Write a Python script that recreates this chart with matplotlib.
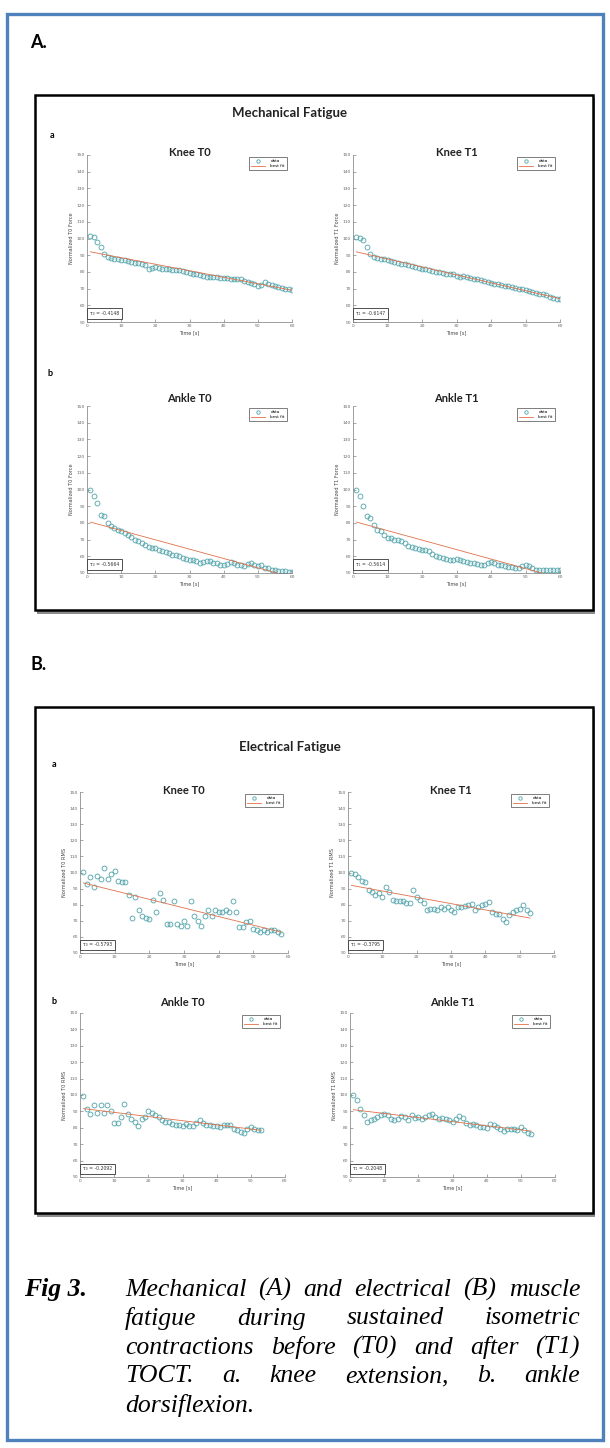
import numpy as np
import matplotlib
matplotlib.use('Agg')
import matplotlib.pyplot as plt
from matplotlib.patches import Rectangle

# Time stamps (1 sample per second)
t_mech = np.arange(1, 61)
t_elec_knee_t0 = np.arange(1, 59)
t_elec_short = np.arange(1, 54)

# Mechanical fatigue - normalized force
mech_knee_t0 = [101.5, 101, 98, 95, 91, 89, 88.5, 88, 87.5, 87, 87, 86.5, 86, 85.5, 85.5,
                85, 84, 82, 82.5, 83, 82.5, 82, 82, 81.5, 81, 81, 81, 80.5, 80, 79.5,
                79, 78.5, 78, 77.5, 77, 77, 77, 77, 76.5, 76.5, 76.5, 76, 76, 75.5, 75.5,
                74.5, 74, 73.5, 72.5, 71.5, 72, 74, 73, 72, 71.5, 71, 70.5, 70, 69.5, 69]
mech_knee_t1 = [101, 100.5, 99, 95, 91, 89, 88.5, 88, 87.5, 87, 86.5, 86, 85.5, 85, 84.5,
                84, 83.5, 83, 82.5, 82, 81.5, 81, 80.5, 80, 80, 79.5, 79, 78.5, 79, 77.5,
                77, 77.5, 77, 76.5, 76, 75.5, 75, 74.5, 74, 73.5, 73, 72.5, 72, 71.5, 71.5,
                71, 70.5, 70, 69.5, 69, 68.5, 68, 67.5, 67, 66.5, 66, 65, 64.5, 64, 64]
mech_ankle_t0 = [100, 96, 92, 85, 84, 80, 78, 77, 76, 75, 74, 73, 71.5, 70, 69,
                 68, 67, 65.5, 65, 65, 64, 63, 62.5, 62, 61, 61, 60, 59, 58.5, 58,
                 58, 57, 56, 56.5, 57, 57, 56, 56, 55, 55, 55.5, 56.5, 56, 55, 55,
                 54, 55.5, 56, 55, 54, 54.5, 53, 53, 52, 51.5, 51, 51, 51, 50.5, 50.5]
mech_ankle_t1 = [100, 96, 90, 84, 83, 79, 76, 75, 73, 71, 71, 70, 69.5, 69, 68,
                 66, 65.5, 65, 64.5, 64, 63.5, 63, 61.5, 60, 59.5, 59, 58.5, 58, 58, 58.5,
                 57.5, 57, 56.5, 56, 56, 55.5, 55, 55, 56, 56.5, 56, 55, 54.5, 54, 53.5,
                 53.5, 53, 53, 54, 54.5, 54, 53, 52, 51.5, 51.5, 51.5, 51.5, 51.5, 51.5, 51.5]

# Electrical fatigue - normalized RMS
elec_knee_t0 = [100.3, 92.7, 97, 91, 98, 96, 103, 96, 99, 101, 95, 94, 94, 86, 72,
                85, 76.5, 73, 72, 71, 83, 75.5, 87, 83, 68, 68, 82, 68, 67, 70,
                67, 82, 73, 70, 67, 73, 76.5, 73, 76.5, 75.5, 75.5, 76.5, 75.5, 82, 75.5,
                66, 66, 69, 70, 65, 64.5, 63, 64, 63, 64, 64, 63, 62]
elec_knee_t1 = [100, 99, 97, 95, 94, 89, 88, 86, 87, 85, 91, 88, 83, 82, 82,
                82, 81, 81, 89, 85, 83, 81, 76.5, 77.5, 77.5, 76.5, 78.6, 77.5, 78.6, 76.5,
                75.5, 78.6, 78.6, 79, 79.6, 80.6, 76.5, 78.6, 79.6, 80.6, 81.7, 75.5, 74.4, 74.4, 71.3,
                69.2, 73.4, 75.5, 76.5, 77.5, 79.6, 76.5, 75]
elec_ankle_t0 = [99.4, 91.7, 88.6, 93.7, 89, 93.7, 89, 93.7, 90.2, 83, 83, 86.6, 94.3, 88.6, 85.6,
                 83.5, 81, 85.6, 86.6, 90, 89, 87.6, 86.6, 85, 83.5, 83.5, 82.5, 82, 81.5, 81,
                 82.5, 81, 81, 83, 85, 83, 82, 81.5, 81, 81, 80.5, 81.5, 82, 81.5, 79.5,
                 78.5, 77.5, 77, 79.5, 80.5, 79.5, 78.5, 78.5]
elec_ankle_t1 = [100, 97, 91.7, 87.6, 83.5, 84.5, 85.6, 86.6, 87.6, 88.6, 87.6, 85.6, 85, 85.6, 87,
                 86.6, 85, 87.6, 86, 86.6, 85.6, 86.6, 87.6, 88.6, 86.6, 85.6, 86, 85.6, 85, 83.5,
                 85.6, 87, 86, 83, 82, 82.5, 82, 80.5, 80.5, 80, 82.5, 81.5, 80.5, 79.5, 78,
                 79.5, 79, 79.5, 78.5, 80.5, 78.5, 77, 76]

# Best fit lines (start / end)
fit_mech_t = [1, 60]
fit_mech_knee_t0 = [92, 69]
fit_mech_knee_t1 = [92, 64]
fit_mech_ankle_t0 = [80.5, 47.5]
fit_mech_ankle_t1 = [80.5, 47]
fit_elec_knee_t0_t = [1, 58]
fit_elec_knee_t0 = [93.5, 63]
fit_elec_short_t = [1, 53]
fit_elec_knee_t1 = [92, 71.7]
fit_elec_ankle_t0 = [91.7, 78.5]
fit_elec_ankle_t1 = [91, 78]

taus = ['τ₀ = -0.4148', 'τ₁ = -0.6147', 'τ₀ = -0.5664', 'τ₁ = -0.5614',
        'τ₀ = -0.5793', 'τ₁ = -0.3795', 'τ₀ = -0.2092', 'τ₁ = -0.2048']

W, H = 610, 1448
DATA_C = '#4fa3aa'
FIT_C = '#e0704a'
SANS = ['Lato', 'DejaVu Sans']

fig = plt.figure(figsize=(W / 100, H / 100), dpi=100)


def fx(x):
    return x / W


def fy(y):
    return 1 - y / H


def px_axes(l, t, r, b):
    return fig.add_axes([fx(l), fy(b), (r - l) / W, (b - t) / H])


def rect(l, t, r, b, **kw):
    p = Rectangle((fx(l), fy(b)), (r - l) / W, (b - t) / H, transform=fig.transFigure, **kw)
    fig.add_artist(p)


# outer blue border
rect(7, 14, 603, 1440, fill=False, ec='#4f81bd', lw=2.4, zorder=5)

# black frames with grey shadow
for top, bot in [(95, 610), (707, 1213)]:
    rect(37, top + 3, 595, bot + 4, fc='#8c8c8c', ec='none', zorder=-3)
    rect(35, top, 593, bot, fc='white', ec='black', lw=1.8, zorder=-2)

fig.text(fx(30), fy(43), 'A.', fontsize=13, fontweight='bold', family=SANS, va='center')
fig.text(fx(30), fy(665), 'B.', fontsize=13, fontweight='bold', family=SANS, va='center')
fig.text(fx(290), fy(113), 'Mechanical Fatigue', fontsize=9.5, fontweight='bold',
         family=SANS, ha='center', va='center', color='#222')
fig.text(fx(290), fy(747), 'Electrical Fatigue', fontsize=9.5, fontweight='bold',
         family=SANS, ha='center', va='center', color='#222')
for x, y, s in [(52, 135, 'a'), (50, 373, 'b'), (54, 764, 'a'), (54, 1001, 'b')]:
    fig.text(fx(x), fy(y), s, fontsize=6.5, fontweight='bold', family=SANS, ha='center', va='center')


def draw_panel(box, title_y, t, y, fit_t, fit_y, title, ylabel, tau):
    l, top, r, b = box
    ax = px_axes(l, top, r, b)
    ax.plot(t, y, 'o', mfc='none', mec=DATA_C, ms=3.5, mew=0.6, label='data')
    ax.plot(fit_t, fit_y, '-', color=FIT_C, lw=0.6, label='best fit')
    ax.set_xlim(0, 60)
    ax.set_ylim(50, 150)
    ax.set_xticks(range(0, 61, 10))
    ax.set_yticks(range(50, 151, 10))
    ax.tick_params(direction='in', length=2, width=0.4, labelsize=3.2,
                   colors='#666', pad=1.5)
    for s in ['top', 'right']:
        ax.spines[s].set_visible(False)
    for s in ['left', 'bottom']:
        ax.spines[s].set_linewidth(0.5)
        ax.spines[s].set_color('#777')
    ax.set_xlabel('Time [s]', fontsize=3.6, labelpad=1.5, color='#444')
    ax.set_ylabel(ylabel, fontsize=3.6, labelpad=1.5, color='#444')
    leg = ax.legend(loc='upper right', bbox_to_anchor=(0.985, 1.0), fontsize=3,
                    frameon=True, fancybox=False, edgecolor='#444', handlelength=3.5,
                    borderpad=0.5, labelspacing=0.2, handletextpad=1.2, markerscale=0.7)
    leg.get_frame().set_linewidth(0.6)
    ax.text(0.015, 0.035, tau, transform=ax.transAxes, fontsize=3.3, color='#333',
            va='bottom', ha='left',
            bbox=dict(boxstyle='square,pad=0.6', fc='white', ec='#333', lw=0.6))
    fig.text(fx((l + r) / 2), fy(title_y), title, fontsize=8, fontweight='bold',
             family=SANS, ha='center', va='center', color='#222')


draw_panel((87, 155, 292, 322), 153, t_mech, mech_knee_t0, fit_mech_t, fit_mech_knee_t0,
           'Knee T0', 'Normalized T0 Force', taus[0])
draw_panel((353, 155, 560, 322), 153, t_mech, mech_knee_t1, fit_mech_t, fit_mech_knee_t1,
           'Knee T1', 'Normalized T1 Force', taus[1])
draw_panel((87, 406, 292, 573), 398, t_mech, mech_ankle_t0, fit_mech_t, fit_mech_ankle_t0,
           'Ankle T0', 'Normalized T0 Force', taus[2])
draw_panel((353, 406, 560, 573), 399, t_mech, mech_ankle_t1, fit_mech_t, fit_mech_ankle_t1,
           'Ankle T1', 'Normalized T1 Force', taus[3])
draw_panel((80, 792, 288, 953), 790, t_elec_knee_t0, elec_knee_t0, fit_elec_knee_t0_t,
           fit_elec_knee_t0, 'Knee T0', 'Normalized T0 RMS', taus[4])
draw_panel((348, 792, 554, 953), 790, t_elec_short, elec_knee_t1, fit_elec_short_t,
           fit_elec_knee_t1, 'Knee T1', 'Normalized T1 RMS', taus[5])
draw_panel((80, 1013, 285, 1177), 1003, t_elec_short, elec_ankle_t0, fit_elec_short_t,
           fit_elec_ankle_t0, 'Ankle T0', 'Normalized T0 RMS', taus[6])
draw_panel((350, 1013, 555, 1177), 1003, t_elec_short, elec_ankle_t1, fit_elec_short_t,
           fit_elec_ankle_t1, 'Ankle T1', 'Normalized T1 RMS', taus[7])

# caption, justified like the original
caption_lines = ['Mechanical (A) and electrical (B) muscle',
                 'fatigue during sustained isometric',
                 'contractions before (T0) and after (T1)',
                 'TOCT. a. knee extension, b. ankle',
                 'dorsiflexion.']
cap_left, cap_right = 125, 580
cap_y0, cap_dy = 1287, 29
cap_size = 18.5
cap_font = dict(fontsize=cap_size, family='Liberation Serif', style='italic',
                va='center_baseline')

fig.text(fx(24), fy(cap_y0), 'Fig 3.', fontsize=cap_size, family='Liberation Serif',
         style='italic', fontweight='bold', va='center_baseline')

renderer = fig.canvas.get_renderer()
for i, line in enumerate(caption_lines):
    y = fy(cap_y0 + i * cap_dy)
    words = line.split()
    if i == len(caption_lines) - 1:
        fig.text(fx(cap_left), y, line, **cap_font)
        continue
    texts = [fig.text(0, y, w, **cap_font) for w in words]
    widths = [tx.get_window_extent(renderer).width for tx in texts]
    gap = (cap_right - cap_left - sum(widths)) / (len(words) - 1)
    x = cap_left
    for tx, w in zip(texts, widths):
        tx.set_x(fx(x))
        x += w + gap

fig.savefig('out.png', dpi=100)
